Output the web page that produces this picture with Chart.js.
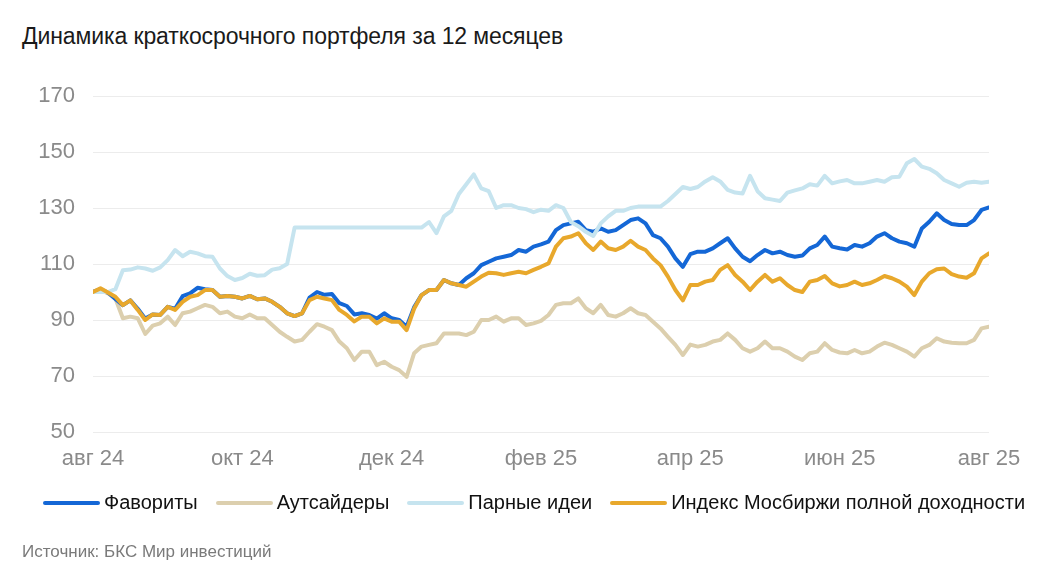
<!DOCTYPE html>
<html lang="ru">
<head>
<meta charset="utf-8">
<script src="https://cdn.jsdelivr.net/npm/chart.js@4.4.1/dist/chart.umd.min.js"></script>
<style>
    body { margin: 0; background: #fff; font-family: "Liberation Sans", Arial, sans-serif; }
    #wrap { position: relative; width: 1048px; height: 587px; overflow: hidden; }
    #title { position: absolute; left: 22px; top: 23px; font-size: 23px; color: #1a1a1a; white-space: nowrap; letter-spacing: -0.1px; }
    #chart { position: absolute; left: 0; top: 0; }
    #legend { position: absolute; left: 43px; top: 491px; display: flex; align-items: center; font-size: 20px; color: #111; white-space: nowrap; }
    .item { display: flex; align-items: center; margin-right: 18px; }
    .swatch { width: 57px; height: 4px; border-radius: 2px; margin-right: 4px; }
    #source { position: absolute; left: 22px; top: 542px; font-size: 17px; color: #7a7a7a; }
</style>
</head>
<body>
<div id="wrap">
    <div id="title">Динамика краткосрочного портфеля за 12 месяцев</div>
    <canvas id="chart" width="1048" height="587"></canvas>
    <div id="legend"></div>
    <div id="source">Источник: БКС Мир инвестиций</div>
</div>
<script>
// подписи оси X (каждые 2 месяца), точек между ними по 20
const monthTicks = ['авг 24', 'окт 24', 'дек 24', 'фев 25', 'апр 25', 'июн 25', 'авг 25'];

const seriesNames = ['Фавориты', 'Аутсайдеры', 'Парные идеи', 'Индекс Мосбиржи полной доходности'];
const seriesColors = ['#1467d6', '#dccfae', '#c6e4ef', '#e8a82c'];

const favorites = [
    100, 101, 99.8, 97.5, 95.3, 97, 94, 90.5, 92, 91.8,
    94.7, 94, 98.5, 99.5, 101.5, 101, 100.7, 98.3, 98.6, 98.3,
    97.7, 98.6, 97.4, 97.7, 96.5, 94.7, 92.4, 91.4, 92.4, 98,
    100, 99, 99.3, 96, 95, 92, 92.4, 91.8, 90.5, 92.4,
    90.6, 90, 87.6, 94.5, 98.9, 100.7, 100.7, 104.3, 103.1, 102.5,
    104.9, 106.7, 109.6, 110.8, 112, 112.6, 113.2, 115, 114.4, 116.2,
    117, 118, 122.1, 123.9, 124.5, 125.1, 122.1, 121.5, 122.7, 121.5,
    122.1, 123.9, 125.7, 126.3, 124.5, 120.3, 119.2, 116.2, 112, 109,
    113.5, 114.4, 114.4, 115.6, 117.4, 119.2, 115.6, 112.6, 111, 113.2,
    115, 113.8, 114.4, 113.2, 112.6, 113, 115.6, 116.8, 119.8, 116.2,
    115.6, 115.2, 116.8, 116.2, 117.4, 119.8, 121, 119.2, 118, 117.4,
    116.2, 122.7, 125.1, 128.1, 125.7, 124.3, 123.9, 123.9, 125.7, 129.3,
    130.2
];

const outsiders = [
    100, 100.7, 99.5, 97.7, 90.6, 91.2, 90.6, 85, 88, 88.8,
    91.2, 88.2, 92.4, 93, 94.2, 95.4, 94.7, 92.4, 93, 91.2,
    90.6, 92, 90.6, 90.6, 88.2, 85.8, 84, 82.3, 82.9, 85.8,
    88.5, 87.6, 86.4, 82.3, 79.9, 75.7, 78.7, 78.7, 73.9, 75.1,
    73.3, 72.1, 69.7, 78.1, 80.5, 81.1, 81.7, 85.2, 85.2, 85.2,
    84.6, 85.8, 90, 90, 91.2, 89.4, 90.6, 90.6, 88.2, 88.8,
    89.7, 91.8, 95.4, 96, 96, 97.7, 94.2, 92.4, 95.4, 91.8,
    91.2, 92.4, 94.2, 92.4, 91.8, 89.4, 87, 84, 81.1, 77.5,
    81.2, 80.5, 81.1, 82.3, 82.9, 85.2, 82.9, 79.9, 78.7, 79.9,
    82.3, 79.9, 79.9, 78.7, 76.9, 75.7, 78.1, 78.7, 81.7, 79.3,
    78.4, 78.1, 79.3, 78.1, 78.7, 80.5, 81.9, 81.1, 79.9, 78.7,
    76.9, 79.9, 81.1, 83.5, 82.3, 81.9, 81.7, 81.7, 82.9, 87,
    87.6
];

const pairIdeas = [
    100, 100, 100, 101, 107.8, 108, 108.8, 108.4, 107.6, 108.8,
    111.4, 115, 112.8, 114.4, 113.8, 112.8, 112.6, 108.4, 105.7, 104.3,
    105, 106.5, 105.8, 106, 108, 108.5, 110, 123, 123, 123,
    123, 123, 123, 123, 123, 123, 123, 123, 123, 123,
    123, 123, 123, 123, 123, 125, 121, 127, 129, 135,
    138.5, 142, 137, 136, 130, 131, 131, 130, 129.6, 128.5,
    129.4, 129, 131, 130, 125, 123.5, 121.5, 120, 124.5, 127,
    129, 129, 130, 130.5, 130.5, 130.5, 130.5, 132.5, 135, 137.5,
    136.8, 137.5, 139.5, 141, 139.5, 136.5, 135.5, 135.2, 141.5, 136,
    133.5, 133, 132.5, 135.5, 136.3, 137, 138.5, 138, 141.5, 138.8,
    139.5, 140, 138.8, 138.8, 139.4, 140, 139.4, 141, 141.2, 146,
    147.5, 144.8, 144, 142.4, 140, 138.8, 137.6, 139, 139.4, 139,
    139.4
];

const moexIndex = [
    100, 101.3, 99.8, 98.3, 95.3, 97, 93.6, 90, 92, 91.8,
    94.7, 93.6, 96.5, 98.3, 98.9, 100.7, 100.7, 98.3, 98.6, 98.3,
    97.7, 98.6, 97.4, 97.7, 96.5, 94.7, 92.4, 91.4, 92.4, 97.1,
    98.3, 97.7, 97.1, 93.6, 91.8, 89.5, 91.2, 91.2, 88.8, 90.6,
    89.4, 89.4, 86.4, 94, 98.9, 100.7, 100.7, 104.3, 103.1, 102.5,
    101.9, 103.7, 105.5, 106.9, 106.7, 106.1, 106.7, 107.2, 106.7, 107.9,
    109, 110.2, 116.2, 119.2, 119.8, 121, 117.4, 115, 118, 115.6,
    115, 116.2, 118.3, 116.2, 115, 112, 109.6, 105.5, 100.7, 97,
    102.5, 102.5, 103.7, 104.3, 107.9, 109.6, 106.1, 103.7, 100.7, 103.7,
    106.1, 103.7, 104.9, 102.5, 100.7, 100, 103.7, 104.3, 105.7, 103.1,
    102, 102.5, 103.7, 102.5, 103.1, 104.3, 105.7, 104.9, 103.7, 101.9,
    98.9, 103.7, 106.7, 108.1, 108.4, 106.4, 105.5, 105.1, 106.7, 112,
    113.8
];

const yTicks = [50, 70, 90, 110, 130, 150, 170];

const seriesData = [favorites, outsiders, pairIdeas, moexIndex];
// порядок отрисовки: индекс сверху, потом парные идеи, фавориты, аутсайдеры снизу
const drawOrder = [2, 3, 1, 0];

function CreateLegend() {
    const legend = document.getElementById('legend');
    seriesNames.forEach((name, index) => {
        const item = document.createElement('div');
        item.className = 'item';
        item.innerHTML = `<span class="swatch" style="background:${seriesColors[index]}"></span><span>${name}</span>`;
        legend.appendChild(item);
    });
}

function InitChart() {
    const ctx = document.getElementById('chart').getContext('2d');
    const pointCount = favorites.length;
    const step = (pointCount - 1) / (monthTicks.length - 1);
    const tickFont = {family: '"Liberation Sans", Arial, sans-serif', size: 22};

    const datasets = seriesNames.map((name, index) => ({
        label: name,
        data: seriesData[index],
        borderColor: seriesColors[index],
        borderWidth: 4,
        pointRadius: 0,
        tension: 0,
        fill: false,
        order: drawOrder[index],
        borderJoinStyle: 'round',
        borderCapStyle: 'round'
    }));

    new Chart(ctx, {
        type: 'line',
        data: {
            labels: Array.from({length: pointCount}, (_, i) => i),
            datasets: datasets
        },
        options: {
            responsive: false,
            animation: false,
            layout: {
                padding: {top: 96, right: 59, bottom: 105, left: 0}
            },
            plugins: {
                legend: {display: false},
                tooltip: {enabled: false}
            },
            scales: {
                x: {
                    type: 'linear',
                    min: 0,
                    max: pointCount - 1,
                    afterFit: (scale) => { scale.height = 50; },
                    afterBuildTicks: (scale) => {
                        scale.ticks = monthTicks.map((_, i) => ({value: i * step}));
                    },
                    ticks: {
                        padding: 14,
                        color: '#8a8a8a',
                        font: tickFont,
                        maxRotation: 0,
                        autoSkip: false,
                        callback: (value) => monthTicks[Math.round(value / step)]
                    },
                    grid: {display: false, drawTicks: false},
                    border: {display: false}
                },
                y: {
                    min: 50,
                    max: 170,
                    afterFit: (scale) => { scale.width = 93; },
                    afterBuildTicks: (scale) => {
                        scale.ticks = yTicks.map(v => ({value: v}));
                    },
                    ticks: {
                        padding: 18,
                        color: '#8a8a8a',
                        font: tickFont
                    },
                    grid: {color: '#ececec', lineWidth: 1, drawTicks: false},
                    border: {display: false}
                }
            }
        }
    });
}

CreateLegend();
InitChart();
</script>
</body>
</html>
